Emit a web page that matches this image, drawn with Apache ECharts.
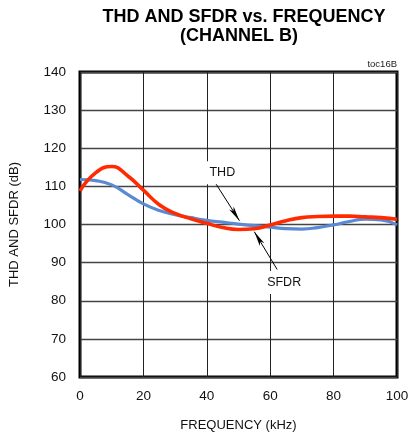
<!DOCTYPE html>
<html><head><meta charset="utf-8">
<script src="https://cdn.jsdelivr.net/npm/echarts@6/dist/echarts.min.js"></script>
<style>html,body{margin:0;padding:0;background:#fff}#c{width:409px;height:434px}</style>
</head><body><div id="c"></div>
<script>
const freq = [0,5,10,15,20,25,30,35,40,45,50,55,60,65,70,75,80,85,90,95,100];
const sfdr = [108.8,113.6,115.2,112.8,109.0,105.2,102.9,101.5,100.3,99.2,98.7,98.9,99.9,101.0,101.8,102.1,102.2,102.2,102.0,101.8,101.4];
const thd  = [111.8,111.5,110.4,107.9,105.4,103.7,102.6,101.8,101.1,100.6,100.1,99.7,99.3,98.9,98.8,99.2,99.9,100.8,101.4,101.2,99.9];
const xTicks = [0,20,40,60,80,100];
const yTicks = [60,70,80,90,100,110,120,130,140];
const thdArrow = [[42.7,110.9],[50.3,101.0]];
const sfdrArrow = [[62.2,88.2],[55.0,98.1]];
const thdLabelPos = [44.9,113.6];
const sfdrLabelPos = [64.4,84.8];

const FONT = 'Liberation Sans, Arial, sans-serif';
const chart = echarts.init(document.getElementById('c'), null, {renderer:'canvas'});
function pairs(xs, ys){ return xs.map((x,i)=>[x, ys[i]]); }
function arrow(a){ return [[{coord:a[0]},{coord:a[1]}]]; }
function lbl(text, pos){
  return {coord:pos, symbol:'rect', symbolSize:0,
    label:{show:true, position:'inside', formatter:text, color:'#111', fontFamily:FONT, fontSize:12.5,
      backgroundColor:'#fff', padding:[5,3]}};
}
chart.setOption({
  animation:false,
  backgroundColor:'#fff',
  grid:{left:80, right:12, top:72, bottom:57, outerBoundsMode:'none', containLabel:false,
    show:true, borderColor:'#000', borderWidth:3, backgroundColor:'transparent'},
  graphic:[
    {type:'text', x:244, y:17, style:{text:'THD AND SFDR vs. FREQUENCY', textAlign:'center', textVerticalAlign:'middle', font:'bold 18px '+FONT, fill:'#000'}},
    {type:'text', x:239, y:36, style:{text:'(CHANNEL B)', textAlign:'center', textVerticalAlign:'middle', font:'bold 18px '+FONT, fill:'#000'}},
    {type:'text', x:397, y:64, style:{text:'toc16B', textAlign:'right', textVerticalAlign:'middle', font:'9.5px '+FONT, fill:'#222'}}
  ],
  xAxis:{type:'value', min:0, max:100, interval:20,
    name:'FREQUENCY (kHz)', nameLocation:'middle', nameGap:42,
    nameTextStyle:{fontFamily:FONT, fontSize:13, color:'#111'},
    axisLine:{show:false}, axisTick:{show:false},
    axisLabel:{margin:12, fontFamily:FONT, fontSize:13.5, color:'#111'},
    splitLine:{show:true, lineStyle:{color:'#222', width:1}}},
  yAxis:{type:'value', min:60, max:140, interval:10,
    name:'THD AND SFDR (dB)', nameLocation:'middle', nameGap:59,
    nameTextStyle:{fontFamily:FONT, fontSize:13, color:'#111'},
    axisLine:{show:false}, axisTick:{show:false},
    axisLabel:{margin:14, fontFamily:FONT, fontSize:13.5, color:'#111'},
    splitLine:{show:true, lineStyle:{color:'#444', width:1.3}}},
  series:[
    {name:'THD', type:'line', data:pairs(freq, thd), smooth:0.5, showSymbol:false,
      lineStyle:{color:'#5a8ad4', width:3.2}, z:3,
      markLine:{silent:true, symbol:['none','arrow'], symbolSize:[4,15], data:arrow(thdArrow), label:{show:false},
        lineStyle:{color:'#000', width:1, type:'solid'}},
      markPoint:{silent:true, data:[lbl('THD', thdLabelPos)]}},
    {name:'SFDR', type:'line', data:pairs(freq, sfdr), smooth:0.5, showSymbol:false,
      lineStyle:{color:'#ff2a00', width:3.6}, z:4,
      markLine:{silent:true, symbol:['none','arrow'], symbolSize:[4,15], data:arrow(sfdrArrow), label:{show:false},
        lineStyle:{color:'#000', width:1, type:'solid'}},
      markPoint:{silent:true, data:[lbl('SFDR', sfdrLabelPos)]}}
  ]
});
</script></body></html>
